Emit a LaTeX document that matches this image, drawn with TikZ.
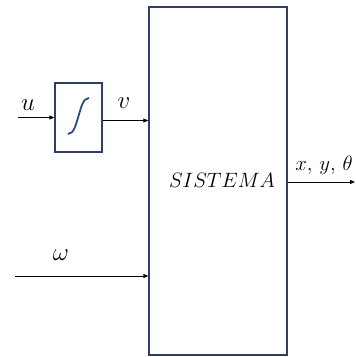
\documentclass[tikz,border=0pt]{standalone}
\usetikzlibrary{arrows.meta}
\definecolor{boxblue}{HTML}{2F3E63}
\definecolor{intblue}{HTML}{2E4A7A}
\begin{document}
\begin{tikzpicture}[x=1pt,y=-1pt,
  blk/.style={draw=boxblue,line width=1.3pt,fill=white,inner sep=0pt},
  sig/.style={-{Triangle[length=5pt,width=4pt]},line width=0.8pt,black},
  lbl/.style={inner sep=0pt,font=\huge},
  sym/.style={inner sep=0pt,font=\Huge}]
\useasboundingbox (0,0) rectangle (356,357);
\node[blk,minimum width=138pt,minimum height=348pt] (sys) at (218,181) {};
\node[lbl] (systxt) at (222,180) {$SISTEMA$};
\node[blk,minimum width=47pt,minimum height=69pt] (int) at (78.5,117.5) {};
\draw[intblue,line width=1.8pt] (68,134) .. controls (74,134) and (76,124) .. (78.5,116)
  .. controls (81,108) and (83,98) .. (89,98);
\coordinate (uin) at (18,117.5);
\coordinate (win) at (15,276);
\coordinate (yout) at (355,182);
\coordinate (vout) at ([yshift=-3pt]int.east);
\draw[sig] (uin) -- (int.west);
\draw[sig] (vout) -- (sys.west |- vout);
\draw[sig] (win) -- (sys.west |- win);
\draw[sig] (sys.east |- yout) -- (yout);
\node[sym] (ulbl) at (28,105) {$u$};
\node[sym] (vlbl) at (124,103) {$v$};
\node[sym] (wlbl) at (61,255) {$\omega$};
\node[lbl] (ylbl) at (324,165) {$x,\,y,\,\theta$};
\end{tikzpicture}
\end{document}
